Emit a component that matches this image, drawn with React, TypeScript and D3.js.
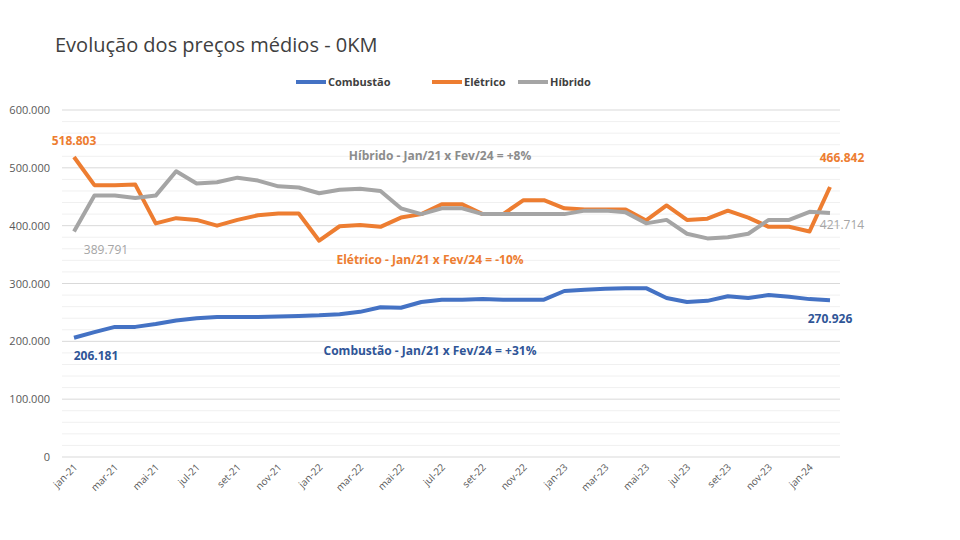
import React from "react";
import * as d3 from "d3";

const months = ["jan","fev","mar","abr","mai","jun","jul","ago","set","out","nov","dez"];
const categories: string[] = [];
for (let y = 21; y <= 24; y++) for (let m = 0; m < 12; m++) { if (y === 24 && m > 1) break; categories.push(`${months[m]}-${y}`); }
const combustao = [206.181,216,225,225,230,236,240,242,242,242,243,244,245,247,251,259,258,268,272,272,273,272,272,272,287,289,291,292,292,275,268,270,278,275,280,277,273,266,270.926].slice(0,38);
combustao[37] = 270.926;
const eletrico = [518.803,470,470,471,404,413,410,400,410,418,421,421,374,399,401,398,414,420,437,437,420,420,444,444,430,428,428,428,409,435,410,412,426,414,398,398,390,466.842];
const hibrido = [389.791,452,452,448,452,494,473,475,483,478,468,466,456,462,464,460,430,420,430,430,420,420,420,420,420,426,426,423,404,410,386,378,380,386,410,410,424,421.714];
const yTicks = [0,100,200,300,400,500,600];
const series = [
  { name: "Combustão", color: "#4472C4", data: combustao },
  { name: "Elétrico", color: "#ED7D31", data: eletrico },
  { name: "Híbrido", color: "#A5A5A5", data: hibrido },
];
const fmt = (v: number) => v === 0 ? "0" : d3.format(",.3f")(v).replace(/,/g, "#").replace(".", ",").replace(/#/g, ".").replace(",", ".");

export default function App() {
  const x = d3.scalePoint<string>().domain(categories).range([74, 830]);
  const y = d3.scaleLinear().domain([0, 600]).range([457, 110]);
  const line = d3.line<number>().x((_, i) => x(categories[i])!).y(d => y(d));
  const minor = d3.range(0, 601, 20);
  const font = "'Open Sans', sans-serif";
  const last = categories.length - 1;
  return (
    <svg width={960} height={540} style={{ position: "absolute", left: 0, top: 0, background: "#fff", fontFamily: font }}>
      <text x={55} y={52} fontSize={20} fill="#404040">Evolução dos preços médios - 0KM</text>
      {minor.map(v => <line key={v} x1={62} x2={840} y1={y(v)} y2={y(v)} stroke={v % 100 === 0 ? "#d9d9d9" : "#f0f0f0"} strokeWidth={1} />)}
      {yTicks.map(v => <text key={v} x={50} y={y(v) + 4} fontSize={11} fill="#595959" textAnchor="end">{v === 0 ? "0" : `${v}.000`}</text>)}
      {categories.map((c, i) => i % 2 === 0 ? (
        <text key={c} transform={`translate(${x(c)! + 4},${468}) rotate(-45)`} fontSize={10} fill="#595959" textAnchor="end">{c}</text>
      ) : null)}
      {series.map(s => <path key={s.name} d={line(s.data)!} fill="none" stroke={s.color} strokeWidth={4} strokeLinejoin="round" />)}
      {[["Combustão", "#4472C4", 296], ["Elétrico", "#ED7D31", 432], ["Híbrido", "#A5A5A5", 518]].map(([n, c, lx]) => (
        <g key={n as string}>
          <line x1={lx as number} x2={(lx as number) + 30} y1={82} y2={82} stroke={c as string} strokeWidth={4} />
          <text x={(lx as number) + 32} y={86} fontSize={11} fontWeight="bold" fill="#404040">{n}</text>
        </g>
      ))}
      <text x={x(categories[0])} y={y(eletrico[0]) - 12} fontSize={12} fontWeight="bold" fill="#ED7D31" textAnchor="middle">{fmt(eletrico[0])}</text>
      <text x={x(categories[0])! + 32} y={y(hibrido[0]) + 22} fontSize={12} fill="#A5A5A5" textAnchor="middle">{fmt(hibrido[0])}</text>
      <text x={x(categories[0])! + 22} y={y(combustao[0]) + 22} fontSize={12} fontWeight="bold" fill="#2F5597" textAnchor="middle">{fmt(combustao[0])}</text>
      <text x={x(categories[last])! + 12} y={y(eletrico[last]) - 25} fontSize={12} fontWeight="bold" fill="#ED7D31" textAnchor="middle">{fmt(eletrico[last])}</text>
      <text x={x(categories[last])! + 12} y={y(hibrido[last]) + 16} fontSize={12} fill="#A5A5A5" textAnchor="middle">{fmt(hibrido[last])}</text>
      <text x={x(categories[last])! + 0} y={y(combustao[last]) + 23} fontSize={12} fontWeight="bold" fill="#2F5597" textAnchor="middle">{fmt(combustao[last])}</text>
      <text x={440} y={160} fontSize={12} fontWeight="bold" fill="#8C8C8C" textAnchor="middle">Híbrido - Jan/21 x Fev/24 = +8%</text>
      <text x={430} y={264} fontSize={12} fontWeight="bold" fill="#ED7D31" textAnchor="middle">Elétrico - Jan/21 x Fev/24 = -10%</text>
      <text x={430} y={355} fontSize={12} fontWeight="bold" fill="#2F5597" textAnchor="middle">Combustão - Jan/21 x Fev/24 = +31%</text>
    </svg>
  );
}
